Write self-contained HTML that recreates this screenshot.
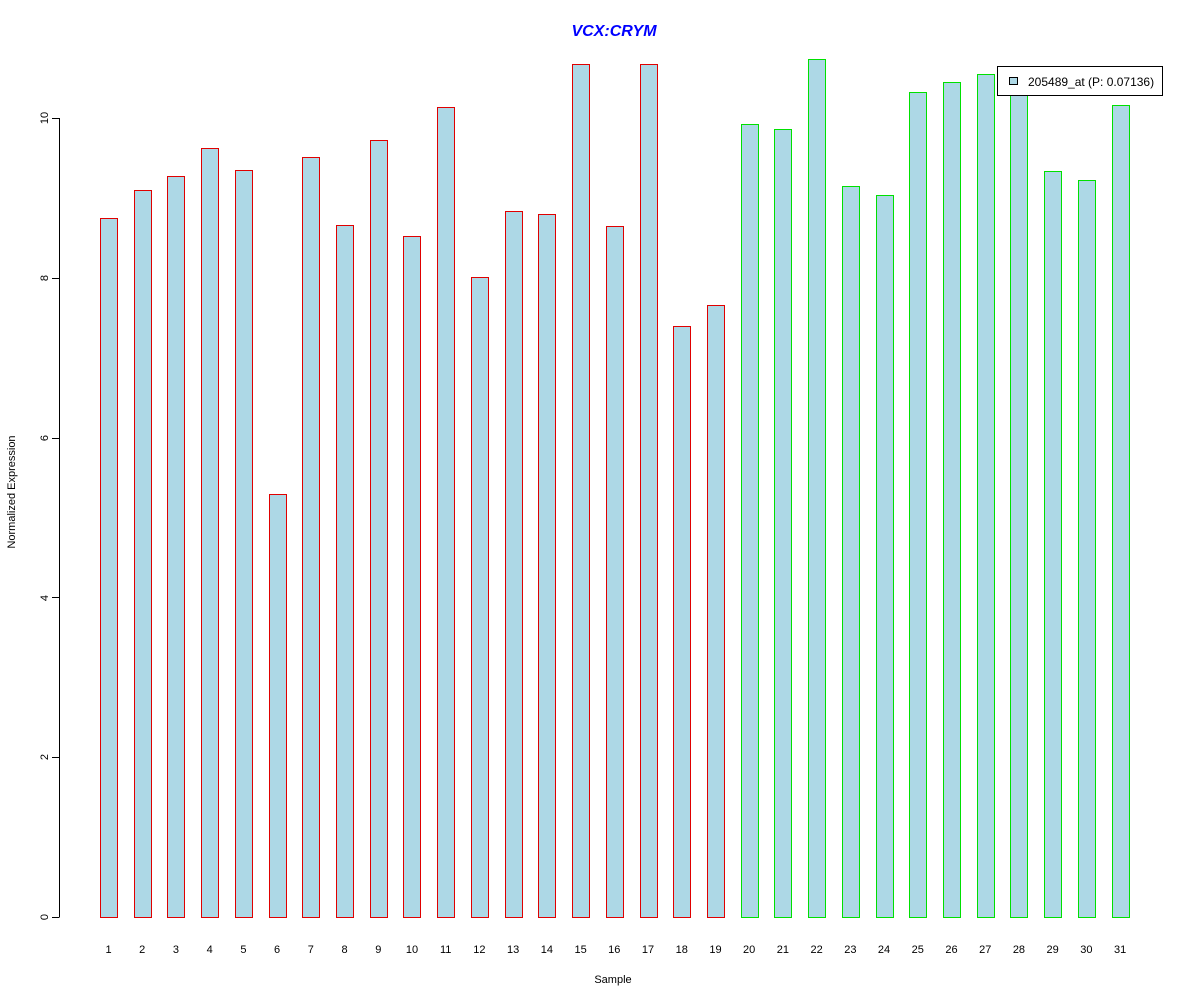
<!DOCTYPE html>
<html><head><style>body{margin:0;background:#fff}svg{display:block}text{font-family:"Liberation Sans",sans-serif}</style></head>
<body>
<svg width="1200" height="1000" xmlns="http://www.w3.org/2000/svg" shape-rendering="crispEdges">
<rect width="1200" height="1000" fill="#fff"/>
<text x="614" y="36" text-anchor="middle" font-size="16" font-weight="bold" font-style="italic" fill="#0000ff">VCX:CRYM</text>
<g stroke="#000" stroke-width="1">
<line x1="59.5" y1="118" x2="59.5" y2="917"/>
<line x1="52" y1="917.5" x2="59.5" y2="917.5"/>
<line x1="52" y1="757.5" x2="59.5" y2="757.5"/>
<line x1="52" y1="597.5" x2="59.5" y2="597.5"/>
<line x1="52" y1="438.5" x2="59.5" y2="438.5"/>
<line x1="52" y1="278.5" x2="59.5" y2="278.5"/>
<line x1="52" y1="118.5" x2="59.5" y2="118.5"/>
</g>
<g font-size="11" fill="#000" text-anchor="middle">
<text transform="translate(44,917) rotate(-90)" dy="4">0</text>
<text transform="translate(44,757) rotate(-90)" dy="4">2</text>
<text transform="translate(44,598) rotate(-90)" dy="4">4</text>
<text transform="translate(44,438) rotate(-90)" dy="4">6</text>
<text transform="translate(44,278) rotate(-90)" dy="4">8</text>
<text transform="translate(44,118) rotate(-90)" dy="4">10</text>
<text transform="translate(15,492) rotate(-90)">Normalized Expression</text>
<text x="613" y="983">Sample</text>
</g>
<g id="bars"></g>
<g id="labels" font-size="11" text-anchor="middle"></g>
<rect x="997.5" y="66.5" width="165" height="29" fill="#fff" stroke="#000"/>
<rect x="1009.5" y="77.5" width="8" height="7" fill="#add8e6" stroke="#000"/>
<text x="1028" y="86" font-size="12">205489_at (P: 0.07136)</text>
</svg>
<script>
var v=[218,190,176,148,170,494,157,225,140,236,107,277,211,214,64,226,64,326,305,124,129,59,186,195,92,82,74,85,171,180,105];
var g=document.getElementById('bars'),l=document.getElementById('labels'),ns="http://www.w3.org/2000/svg";
v.forEach(function(y,i){var cx=108.5+i*33.72;var x=Math.round(cx-8.5);var c=i<19?'#e00000':'#00e000';
var f=document.createElementNS(ns,'rect');f.setAttribute('x',x);f.setAttribute('y',y);f.setAttribute('width',18);f.setAttribute('height',918-y);f.setAttribute('fill',c);g.appendChild(f);
var r=document.createElementNS(ns,'rect');r.setAttribute('x',x+1);r.setAttribute('y',y+1);r.setAttribute('width',16);r.setAttribute('height',916-y);r.setAttribute('fill','#add8e6');g.appendChild(r);
var t=document.createElementNS(ns,'text');t.setAttribute('x',cx);t.setAttribute('y',953);t.textContent=i+1;l.appendChild(t);});
</script>
</body></html>
